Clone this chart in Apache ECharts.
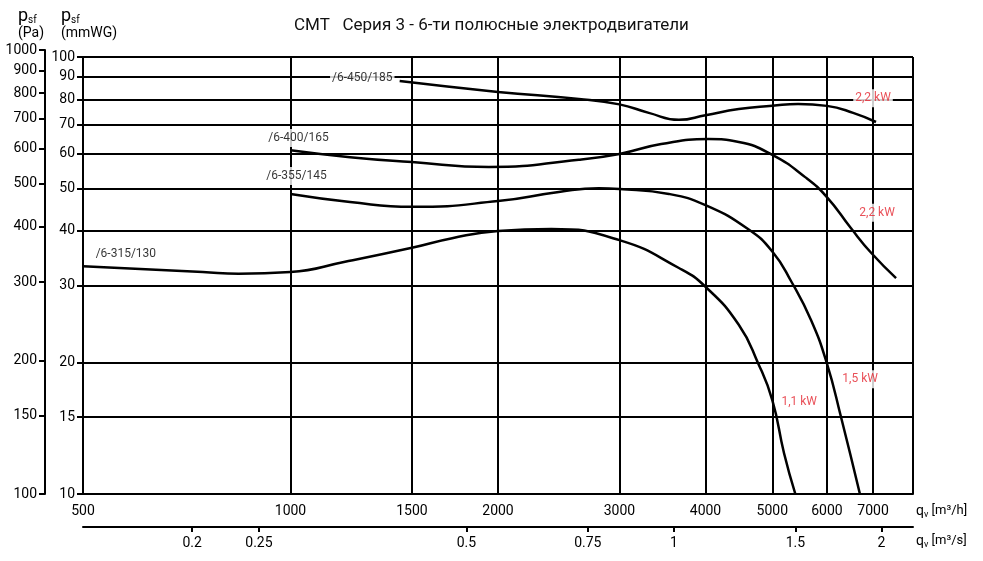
<!DOCTYPE html>
<html>
<head>
<meta charset="utf-8">
<title>CMT Серия 3</title>
<script src="https://cdn.jsdelivr.net/npm/echarts@6/dist/echarts.min.js"></script>
<style>
  html, body { margin: 0; padding: 0; background: #fff; }
  #chart { width: 983px; height: 561px; }
</style>
</head>
<body>
<div id="chart"></div>
<script>
// Axis ticks
const qHourTicks = [500, 1000, 1500, 2000, 3000, 4000, 5000, 6000, 7000]
const qHourGrid = [500, 1000, 1500, 2000, 3000, 4000, 5000, 6000, 7000, 8000]
const qSecTicks = [0.2, 0.25, 0.5, 0.75, 1, 1.5, 2]
const pMmTicks = [10, 15, 20, 30, 40, 50, 60, 70, 80, 90, 100]
const pPaTicks = [100, 150, 200, 300, 400, 500, 600, 700, 800, 900, 1000]

// Fan curves: flow q (m³/h), static pressure p (mmWG)
const q450 = [1440, 2000, 2620, 3000, 3310, 3660, 4000, 4470, 5000, 5450, 6000, 6550, 7070]
const p450 = [88.1, 83.2, 80.2, 77.9, 74.5, 71.8, 73.6, 76.0, 77.3, 78.1, 77.3, 74.5, 71.0]

const q400 = [1000, 1220, 1500, 1940, 2620, 3000, 3450, 4040, 4470, 5000, 5580, 6000, 6500, 6960, 7560]
const p400 = [61.2, 59.0, 57.5, 56.0, 58.2, 60.0, 63.2, 64.9, 63.9, 59.7, 53.1, 47.8, 40.6, 35.6, 31.2]

const q355 = [1000, 1220, 1500, 2000, 2450, 2800, 3000, 3540, 4000, 4610, 5000, 5330, 5690, 6000, 6290, 6700]
const p355 = [48.6, 46.6, 45.4, 46.8, 49.1, 50.1, 49.9, 48.6, 45.8, 40.4, 35.9, 30.6, 25.0, 19.9, 15.0, 10.0]

const q315 = [500, 746, 841, 1000, 1200, 1500, 1716, 2000, 2390, 3000, 3660, 4000, 4470, 4770, 5000, 5200, 5400]
const p315 = [33.2, 32.2, 31.9, 32.2, 34.0, 36.6, 38.5, 40.0, 40.4, 38.1, 32.9, 29.8, 24.4, 19.9, 16.4, 12.4, 10.0]

// Curve names and motor power labels, anchored in data units
const curveNames = ['/6-450/185', '/6-400/165', '/6-355/145', '/6-315/130']
const curveLabelQ = [1271, 1027, 1020, 577]
const curveLabelP = [89.5, 65.3, 53.4, 35.4]

const powerNames = ['2,2 kW', '2,2 kW', '1,5 kW', '1,1 kW']
const powerLabelQ = [7000, 7095, 6705, 5470]
const powerLabelP = [80.5, 44.0, 18.3, 16.2]

const FONT = 'Roboto, "DejaVu Sans", sans-serif'
const BLACK = '#000'
const RED = '#e3242e'

const zip = (xs, ys) => xs.map((x, i) => [x, ys[i]])

const curveSeries = (name, q, p) => ({
  name: name,
  type: 'line',
  xAxisIndex: 0,
  yAxisIndex: 0,
  data: zip(q, p),
  smooth: 0.5,
  symbol: 'none',
  lineStyle: { color: BLACK, width: 2.5 },
  z: 3,
  silent: true
})

const labelSeries = (names, qs, ps, color) => ({
  type: 'scatter',
  xAxisIndex: 0,
  yAxisIndex: 0,
  symbolSize: 1,
  itemStyle: { color: 'transparent' },
  data: names.map((n, i) => ({ name: n, value: [qs[i], ps[i]] })),
  label: {
    show: true,
    position: 'inside',
    formatter: '{b}',
    color: color,
    fontFamily: FONT,
    fontSize: 12,
    backgroundColor: '#fff',
    padding: [3, 2]
  },
  z: 5,
  silent: true
})

const chart = echarts.init(document.getElementById('chart'), null, { renderer: 'canvas' })

const axisLine = { show: true, lineStyle: { color: BLACK, width: 2 } }
const labelStyle = { color: BLACK, fontFamily: FONT, fontSize: 14 }

const titleRich = {
  p: { fontSize: 18, fontFamily: FONT, lineHeight: 18 },
  s: { fontSize: 10, fontFamily: FONT, verticalAlign: 'bottom', lineHeight: 18 },
  u: { fontSize: 14, fontFamily: FONT, lineHeight: 16 }
}

const options = {
  animation: false,
  backgroundColor: '#fff',
  textStyle: { fontFamily: FONT },
  title: {
    text: 'CMT   Серия 3 - 6-ти полюсные электродвигатели',
    left: 289,
    top: 12,
    textStyle: { fontFamily: FONT, fontSize: 17, fontWeight: 'normal', color: '#111' }
  },
  graphic: [
    {
      type: 'text',
      left: 18,
      top: 7,
      style: { text: '{p|p}{s|sf}\n{u|(Pa)}', fill: BLACK, font: '14px ' + FONT, rich: titleRich }
    },
    {
      type: 'text',
      left: 61,
      top: 7,
      style: { text: '{p|p}{s|sf}\n{u|(mmWG)}', fill: BLACK, font: '14px ' + FONT, rich: titleRich }
    }
  ],
  grid: [
    { left: 83, right: 70, top: 57, bottom: 67 },
    { left: 45, width: 1, top: 50, bottom: 67 }
  ],
  xAxis: [
    {
      gridIndex: 0,
      type: 'log',
      logBase: 10,
      min: 500,
      max: 8000,
      axisLine: axisLine,
      axisTick: { show: false, customValues: qHourGrid },
      axisLabel: Object.assign({}, labelStyle, {
        customValues: qHourTicks,
        margin: 10,
        formatter: v => String(Math.round(v))
      }),
      splitLine: { show: true, lineStyle: { color: BLACK, width: 2 } },
      name: '{q|q}{v|v} [m³/h]',
      nameLocation: 'end',
      nameGap: 3,
      nameTextStyle: {
        color: BLACK, fontFamily: FONT, fontSize: 13,
        align: 'left', verticalAlign: 'top', padding: [9, 0, 0, 0],
        rich: {
          q: { fontSize: 14, fontFamily: FONT, lineHeight: 16 },
          v: { fontSize: 9, fontFamily: FONT, verticalAlign: 'bottom', lineHeight: 16 }
        }
      }
    },
    {
      gridIndex: 0,
      type: 'log',
      logBase: 10,
      min: 500 / 3600,
      max: 8000 / 3600,
      position: 'bottom',
      offset: 33,
      axisLine: axisLine,
      axisTick: { show: true, length: 5, customValues: qSecTicks, lineStyle: { color: BLACK, width: 2 } },
      axisLabel: Object.assign({}, labelStyle, {
        customValues: qSecTicks,
        margin: 9,
        formatter: v => String(Math.round(v * 100) / 100)
      }),
      splitLine: { show: false },
      name: '{q|q}{v|v} [m³/s]',
      nameLocation: 'end',
      nameGap: 3,
      nameTextStyle: {
        color: BLACK, fontFamily: FONT, fontSize: 13,
        align: 'left', verticalAlign: 'top', padding: [6, 0, 0, 0],
        rich: {
          q: { fontSize: 14, fontFamily: FONT, lineHeight: 16 },
          v: { fontSize: 9, fontFamily: FONT, verticalAlign: 'bottom', lineHeight: 16 }
        }
      }
    },
    { gridIndex: 1, type: 'value', show: false }
  ],
  yAxis: [
    {
      gridIndex: 0,
      type: 'log',
      logBase: 10,
      min: 10,
      max: 100,
      axisLine: axisLine,
      axisTick: { show: true, length: 6, customValues: pMmTicks, lineStyle: { color: BLACK, width: 2 } },
      axisLabel: Object.assign({}, labelStyle, {
        customValues: pMmTicks,
        margin: 8,
        formatter: v => String(Math.round(v))
      }),
      splitLine: { show: true, lineStyle: { color: BLACK, width: 2 } }
    },
    {
      gridIndex: 1,
      type: 'log',
      logBase: 10,
      min: 100,
      max: 1000,
      axisLine: axisLine,
      axisTick: { show: true, length: 6, customValues: pPaTicks, lineStyle: { color: BLACK, width: 2 } },
      axisLabel: Object.assign({}, labelStyle, {
        customValues: pPaTicks,
        margin: 8,
        formatter: v => String(Math.round(v))
      }),
      splitLine: { show: false }
    }
  ],
  series: [
    curveSeries('/6-450/185', q450, p450),
    curveSeries('/6-400/165', q400, p400),
    curveSeries('/6-355/145', q355, p355),
    curveSeries('/6-315/130', q315, p315),
    labelSeries(curveNames, curveLabelQ, curveLabelP, BLACK),
    labelSeries(powerNames, powerLabelQ, powerLabelP, RED)
  ]
}

chart.setOption(options)
</script>
</body>
</html>
